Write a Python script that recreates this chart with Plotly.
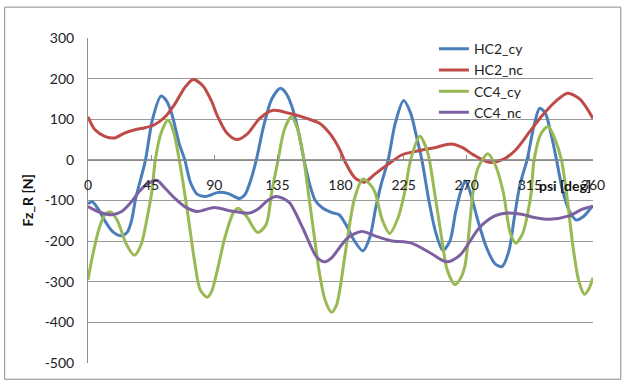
import plotly.graph_objects as go

# Azimuth angle psi [deg] and vertical force Fz_R [N] per configuration
hc2_cy_psi = [0, 3, 8, 12, 18, 24, 28, 31, 34, 37, 41, 46, 52, 56, 60, 65, 69, 73, 78, 84, 93, 100,
              108, 112, 116, 120, 125, 131, 137, 141, 145, 150, 154, 158, 162, 167, 174, 179, 184,
              190, 196, 201, 205, 209, 214, 219, 225, 230, 234, 238, 243, 248, 253, 258, 262, 266,
              269, 272, 278, 284, 290, 295, 300, 304, 308, 313, 318, 322, 326, 330, 334, 338, 343,
              348, 353, 357, 360]
hc2_cy_fz = [-108, -103, -125, -150, -178, -187, -178, -150, -95, -55, 0, 100, 157, 145, 110, 40, 0,
             -55, -85, -90, -80, -83, -95, -85, -50, 0, 80, 150, 176, 165, 135, 70, 0, -60, -100,
             -118, -130, -135, -160, -200, -224, -190, -120, -60, 0, 90, 146, 115, 60, 0, -100,
             -180, -223, -200, -130, -75, -52, -75, -150, -215, -255, -263, -225, -140, -60, 0, 85,
             127, 115, 65, 0, -70, -125, -148, -140, -125, -112]

hc2_nc_psi = [0, 5, 12, 19, 26, 33.5, 40.6, 47.7, 55, 62, 69, 75, 82, 88, 92, 99, 106, 113, 122.5,
              132, 144, 156, 165, 173, 179.5, 183, 190, 197, 204.5, 214, 223.5, 235, 247, 259, 267,
              274.5, 286, 296, 305, 315, 324, 334, 342, 350.5, 360]
hc2_nc_fz = [106, 74, 58, 54, 66, 74, 79, 87, 106, 138, 178, 198, 182, 145, 110, 66, 50, 62, 102,
             122, 114, 102, 90, 62, 25, -3, -43, -55, -35, -11, 12, 22, 30, 39, 30,
             13, -6, 1, 25, 70, 110, 146, 164, 150, 102]

cc4_cy_psi = [0, 3, 8, 12, 16, 21, 27, 33, 38, 43, 45.5, 48, 52, 57, 61, 64, 67, 71, 76, 80, 85, 88,
              91.7, 97.6, 103.5, 107, 113, 121, 127, 131, 135.5, 140, 145, 149, 153, 157, 161, 165,
              169, 173.6, 177, 179.5, 183, 190, 196, 201, 204.5, 210, 215, 221, 225.8, 230, 236.5,
              242, 247, 252, 256, 261.5, 265, 268.6, 274.5, 278, 285, 290, 296, 301, 305, 310,
              313.7, 316, 318, 323, 328, 333, 337.5, 341, 346, 350, 354, 357, 360]
cc4_cy_fz = [-295, -240, -168, -135, -128, -150, -205, -235, -207, -127, -79, 0, 65, 98, 70, 20, -40,
             -130, -250, -320, -338, -325, -279, -191, -131, -119, -139, -179, -159, -79, 0, 75, 106,
             80, 20, -79, -180, -279, -345, -375, -359, -320, -239, -95, -47, -60, -79, -150, -181,
             -143, -79, 0, 58, 20, -79, -190, -270, -307, -295, -263, -79, -20, 15, -10, -79, -180,
             -205, -180, -127, -79, 0, 65, 82, 50, 0, -79, -220, -300, -331, -318, -290]

cc4_nc_psi = [0, 7, 17, 24, 31, 36, 42, 49, 55, 62, 69, 78, 90, 101, 115, 122, 128, 134, 139, 144,
              153, 163, 169, 174, 179.5, 185.5, 195, 204.5, 216, 230.6, 244.9, 255.5, 265, 279, 290,
              299, 309, 320, 329, 343, 352, 360]
cc4_nc_fz = [-115, -127, -135, -127, -103, -80, -60, -50, -70, -95, -115, -127, -117, -125, -131,
             -119, -100, -90, -95, -107, -167, -239, -251, -240, -215, -191, -176, -187, -199, -205,
             -231, -251, -235, -167, -138, -131, -134, -143, -146, -138, -122, -115]

series = [
    ("HC2_cy", hc2_cy_psi, hc2_cy_fz, "#4A7EBB"),
    ("HC2_nc", hc2_nc_psi, hc2_nc_fz, "#BE4B48"),
    ("CC4_cy", cc4_cy_psi, cc4_cy_fz, "#98B954"),
    ("CC4_nc", cc4_nc_psi, cc4_nc_fz, "#7D60A0"),
]

x_ticks = [0, 45, 90, 135, 180, 225, 270, 315, 360]
y_ticks = [-500, -400, -300, -200, -100, 0, 100, 200, 300]

font_family = "Lato, Carlito, Calibri, sans-serif"

fig = go.Figure()
for name, psi, fz, color in series:
    fig.add_trace(go.Scatter(
        x=psi, y=fz, name=name, mode="lines",
        line=dict(color=color, width=3, shape="spline", smoothing=0.8),
    ))

y_min, y_max = -500, 300
fig.update_layout(
    width=622, height=380,
    margin=dict(l=88, r=29, t=38, b=9),
    paper_bgcolor="white", plot_bgcolor="white",
    font=dict(family=font_family, size=14, color="#222222"),
    showlegend=True,
    legend=dict(
        x=0.685, y=1.015, xanchor="left", yanchor="top",
        bgcolor="rgba(0,0,0,0)", font=dict(size=14, color="#222222"),
        tracegroupgap=0, itemwidth=30,
    ),
    xaxis=dict(
        range=[0, 360], tickvals=x_ticks, ticktext=[str(t) for t in x_ticks],
        anchor="free", position=(0 - y_min) / (y_max - y_min), side="bottom",
        showline=True, linecolor="#8C8C8C", linewidth=1,
        ticks="inside", ticklen=5, tickcolor="#8C8C8C",
        showgrid=False, zeroline=False, ticklabelstandoff=12,
        tickfont=dict(size=14, color="#222222"),
    ),
    yaxis=dict(
        range=[y_min, y_max], tickvals=y_ticks, ticktext=[str(t) for t in y_ticks],
        showline=True, linecolor="#8C8C8C", linewidth=1,
        showgrid=True, gridcolor="#9A9A9A", gridwidth=1,
        zeroline=False, ticks="", ticklabelstandoff=10,
        tickfont=dict(size=14, color="#222222"),
    ),
    shapes=[dict(
        type="rect", xref="paper", yref="paper",
        x0=-0.165, x1=1.055, y0=-0.05, y1=1.095,
        line=dict(color="#8C8C8C", width=1), fillcolor="rgba(0,0,0,0)", layer="below",
    )],
    annotations=[
        dict(text="<b>Fz_R [N]</b>", xref="paper", yref="paper",
             x=-0.119, y=0.5, xanchor="center", yanchor="middle",
             textangle=-90, showarrow=False,
             font=dict(size=14, color="#111111")),
        dict(text="<b>psi [deg]</b>", xref="x", yref="y",
             x=360, y=-62, xanchor="right", yanchor="middle", showarrow=False,
             font=dict(size=14, color="#111111")),
    ],
)

fig.write_html("out.html")
